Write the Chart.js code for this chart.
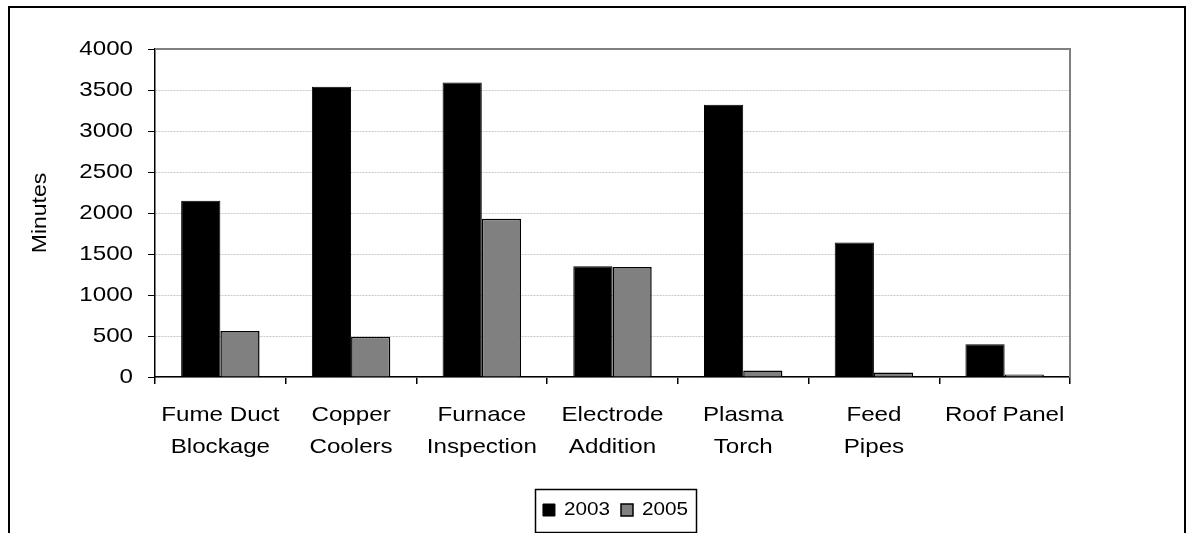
<!DOCTYPE html>
<html>
<head>
<meta charset="utf-8">
<script src="https://cdn.jsdelivr.net/npm/chart.js@4/dist/chart.umd.min.js"></script>
<style>
  html,body{margin:0;padding:0;background:#fff;}
  #wrap{width:1187px;height:533px;position:relative;}
</style>
</head>
<body>
<div id="wrap"><canvas id="c" width="1187" height="533"></canvas></div>
<script>
// ── DATA ─────────────────────────────────────────────
var categories=[['Fume Duct','Blockage'],['Copper','Coolers'],['Furnace','Inspection'],['Electrode','Addition'],['Plasma','Torch'],['Feed','Pipes'],['Roof Panel']];
var seriesNames=['2003','2005'];
var minutes2003=[2150,3540,3590,1350,3320,1640,400];
var minutes2005=[560,490,1930,1340,80,55,30];
var yMin=0, yMax=4000, yStep=500;

var FONT='"Liberation Sans", Arial, sans-serif';
var SX=1.15; // the original picture is stretched sideways, text too

var ctx=document.getElementById('c').getContext('2d');
var _fill=CanvasRenderingContext2D.prototype.fillText;
ctx.fillText=function(t,x,y,mw){
  this.save();
  this.translate(x,y);
  this.scale(SX,1);
  if(mw!==undefined)_fill.call(this,t,0,0,mw/SX);else _fill.call(this,t,0,0);
  this.restore();
};

// outer frame, grey plot border, legend box
var framePlugin={
  id:'frame',
  beforeDatasetsDraw:function(chart){
    var c=chart.ctx,a=chart.chartArea;
    c.save();
    c.strokeStyle='#808080';c.lineWidth=2;
    c.beginPath();
    c.moveTo(a.left,a.top);c.lineTo(a.right,a.top);c.lineTo(a.right,a.bottom);
    c.stroke();
    c.restore();
  },
  afterDraw:function(chart){
    var c=chart.ctx;
    c.save();
    c.strokeStyle='#000';c.lineWidth=2;
    c.strokeRect(9,7,1176,600);
    var hb=chart.legend&&chart.legend.legendHitBoxes;
    if(hb&&hb.length){
      var f=hb[0],l=hb[hb.length-1];
      var cy=f.top+f.height/2;
      c.lineWidth=1.5;
      c.strokeRect(Math.round(f.left-8)+0.5,Math.round(cy-21)+0.5,Math.round(l.left+l.width-f.left+22),43);
    }
    c.restore();
  }
};

new Chart(ctx,{
  type:'bar',
  data:{
    labels:categories,
    datasets:[{
      label:seriesNames[0],
      data:minutes2003,
      backgroundColor:'#000000',
      borderColor:'#000000',
      borderWidth:1
    },{
      label:seriesNames[1],
      data:minutes2005,
      backgroundColor:'#808080',
      borderColor:'#000000',
      borderWidth:1.5
    }]
  },
  options:{
    responsive:false,
    animation:false,
    devicePixelRatio:1,
    categoryPercentage:0.6,
    barPercentage:1,
    layout:{padding:{left:0,right:117,top:49,bottom:4}},
    plugins:{
      legend:{
        position:'bottom',
        fullSize:false,
        labels:{
          color:'#000',
          font:{family:FONT,size:18},
          boxWidth:12,boxHeight:12,
          padding:17
        }
      },
      tooltip:{enabled:false}
    },
    scales:{
      x:{
        offset:true,
        grid:{offset:true,drawOnChartArea:false,drawTicks:true,tickLength:7,tickColor:'#000',lineWidth:1.5},
        border:{display:true,color:'#000',width:1.5},
        ticks:{color:'#000',font:{family:FONT,size:21,lineHeight:1.52},padding:15,maxRotation:0,autoSkip:false},
        afterFit:function(s){s.height=107;}
      },
      y:{
        min:yMin,max:yMax,
        ticks:{stepSize:yStep,color:'#000',font:{family:FONT,size:21},padding:15,
          callback:function(v){return String(v);}},
        grid:{color:'#c8c8c8',lineWidth:1,tickColor:'#000',tickLength:7},
        border:{display:true,color:'#000',width:1.5,dash:[2,1]},
        title:{display:true,text:'Minutes',color:'#000',font:{family:FONT,size:20},padding:{top:28,bottom:0}},
        afterFit:function(s){s.width=155;}
      }
    }
  },
  plugins:[framePlugin]
});
</script>
</body>
</html>
